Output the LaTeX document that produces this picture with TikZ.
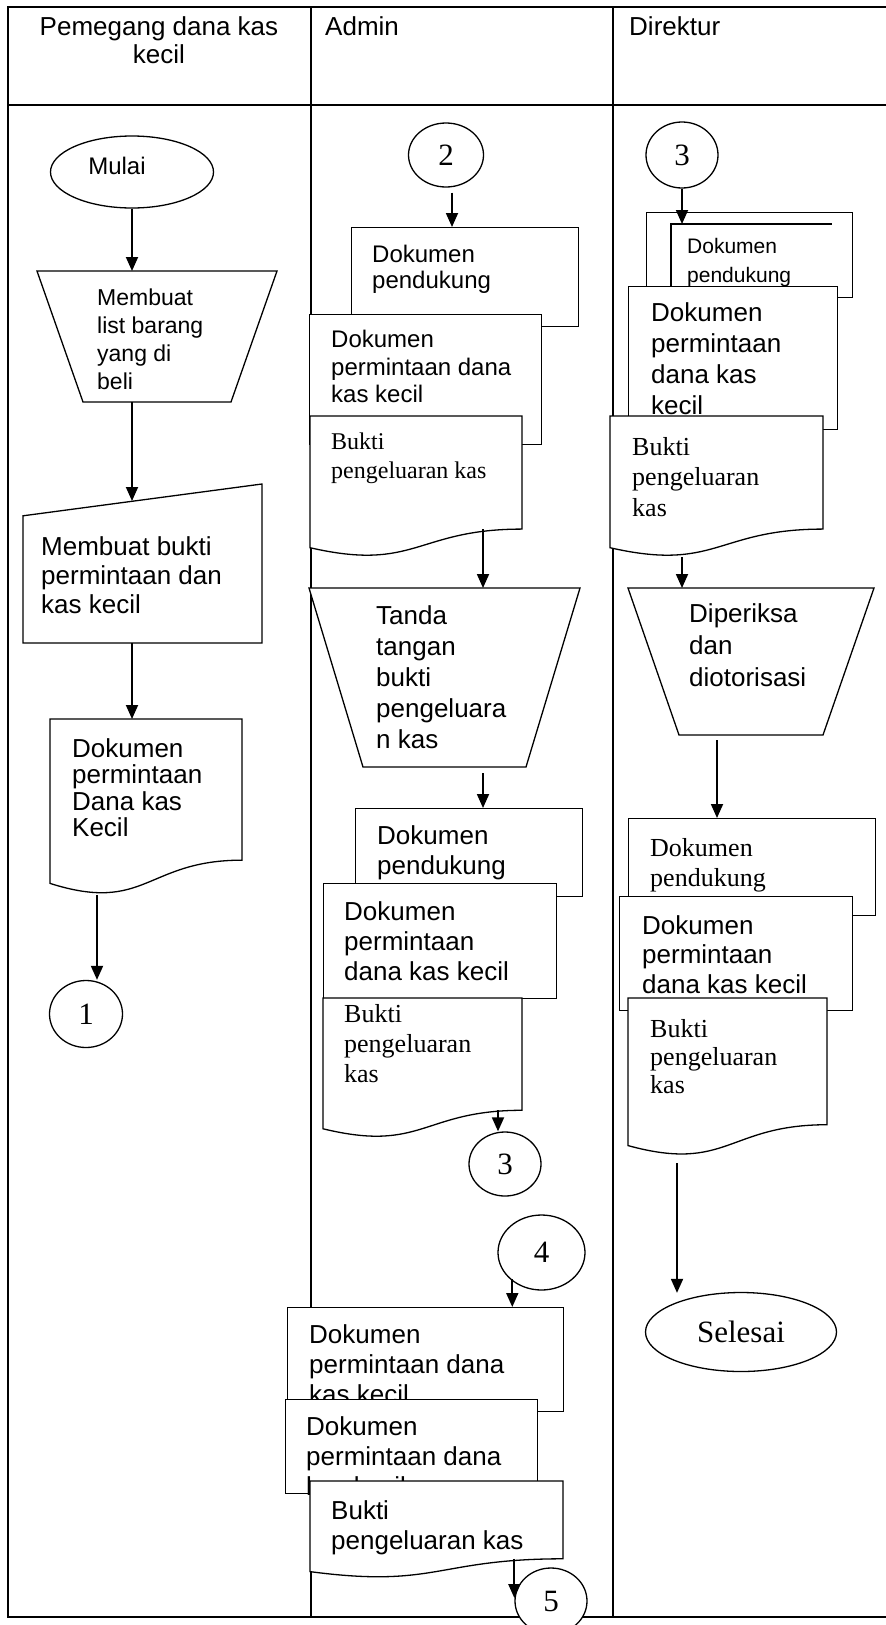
\documentclass[tikz,border=0pt]{standalone}
\usepackage{fontspec}
\setmainfont{Liberation Sans}
\newfontfamily\tms{Liberation Serif}
\usepackage{tikz}
\usetikzlibrary{positioning,shapes.geometric,arrows.meta,calc}

% document symbol: wavy bottom edge round an empty node
\newcommand{\docoutline}[1]{%
  \draw[outline] (#1.north west) -- (#1.north east)
    -- ($(#1.north east)!0.802!(#1.south east)$) coordinate (#1-r)
    .. controls ($(#1.north)!0.802!(#1.south)$) and ($(#1.north)!1.107!(#1.south)$)
    .. ($(#1.north west)!0.934!(#1.south west)$) -- cycle;}
% manual operation: wide top, narrow bottom
\newcommand{\trapoutline}[2]{%
  \draw[outline] (#1.north west) -- (#1.north east)
    -- ([xshift=-#2]#1.south east) -- ([xshift=#2]#1.south west) -- cycle;}

\begin{document}
\begin{tikzpicture}[
  x=1pt, y=-1pt,
  frame/.style={line width=2pt},
  outline/.style={draw, fill=white, line width=1.3pt},
  box/.style={outline, rectangle, inner sep=0pt, anchor=north west},
  area/.style={inner sep=0pt, outer sep=0pt, anchor=north west},
  term/.style={outline, ellipse, inner sep=0pt},
  arr/.style={line width=1.8pt, -{Triangle[length=14pt,width=12pt]}},
  lbl/.style={inner sep=0pt, align=left, font=\fontsize{26pt}{30pt}\selectfont},
  lblsm/.style={lbl, font=\fontsize{21pt}{29pt}\selectfont},
  lblser/.style={lbl, font=\tms\fontsize{26pt}{30pt}\selectfont},
  num/.style={term, font=\tms\fontsize{31pt}{36pt}\selectfont}
]
\useasboundingbox (0,0) rectangle (886,1625);

% ======================================================
% =============== FRAME ================================
% ======================================================
\draw[frame] (890,7) -- (8,7) -- (8,1617) -- (890,1617);
\draw[frame] (8,105) -- (890,105);
\draw[frame] (311,7) -- (311,1617);
\draw[frame] (613,7) -- (613,1617);

\node[lbl, align=center, font=\fontsize{26pt}{28pt}\selectfont] (hPem) at (159,40) {Pemegang dana kas\\kecil};
\node[lbl, anchor=north west] (hAdm) at (325,16) {Admin};
\node[lbl, anchor=north west] (hDir) at (629,16) {Direktur};

% ======================================================
% =============== PEMEGANG DANA KAS KECIL ==============
% ======================================================
\node[term, minimum width=163pt, minimum height=72pt] (mulai) at (132,172) {};
\node[lbl, font=\fontsize{24pt}{28pt}\selectfont, anchor=center] (mulait) at ([shift={(-15pt,6pt)}]mulai.center) {Mulai};

\node[area, minimum width=240pt, minimum height=131pt] (tr1) at (37,271) {};
\trapoutline{tr1}{46pt}
\node[lbl, font=\fontsize{23pt}{28pt}\selectfont, below right=18pt and 60pt of tr1.north west] (tr1t) {Membuat\\list barang\\yang di\\beli};

\node[area, minimum width=239pt, minimum height=159pt] (mi1) at (23,484) {};
\draw[outline] (mi1.north east) -- (mi1.south east) -- (mi1.south west) -- ($(mi1.north west)!0.2!(mi1.south west)$) -- cycle;
\node[lbl, font=\fontsize{26pt}{29pt}\selectfont, below right=52pt and 18pt of mi1.north west] (mi1t) {Membuat bukti\\permintaan dan\\kas kecil};

\node[area, minimum width=192pt, minimum height=176pt] (doc1) at (50,719) {};
\docoutline{doc1}
\node[lbl, font=\fontsize{26pt}{26.5pt}\selectfont, below right=19pt and 22pt of doc1.north west] (doc1t) {Dokumen\\permintaan\\Dana kas\\Kecil};

\node[num, minimum width=73pt, minimum height=67pt] (c1) at (86,1014) {1};

% ======================================================
% =============== ADMIN ================================
% ======================================================
\node[num, minimum width=75pt, minimum height=64pt] (c2) at (446,155) {2};

\node[box, minimum width=227pt, minimum height=99pt] (pdA1) at (351,227) {};
\node[lbl, font=\fontsize{24pt}{26pt}\selectfont, below right=18pt and 21pt of pdA1.north west] (pdA1t) {Dokumen\\pendukung};
\node[box, minimum width=232pt, minimum height=130pt] (pmA1) at (309,314) {};
\node[lbl, font=\fontsize{24pt}{27.5pt}\selectfont, below right=16pt and 22pt of pmA1.north west] (pmA1t) {Dokumen\\permintaan dana\\kas kecil};
\node[area, minimum width=212pt, minimum height=141pt] (bkA1) at (310,416) {};
\docoutline{bkA1}
\node[lblser, font=\tms\fontsize{24pt}{29pt}\selectfont, below right=17pt and 21pt of bkA1.north west] (bkA1t) {Bukti\\pengeluaran kas};

\node[area, minimum width=271pt, minimum height=179pt] (trA) at (309,588) {};
\trapoutline{trA}{54pt}
\node[lbl, font=\fontsize{26pt}{31pt}\selectfont, below right=17pt and 67pt of trA.north west] (trAt) {Tanda\\tangan\\bukti\\pengeluara\\n kas};

\node[box, minimum width=227pt, minimum height=88pt] (pdA2) at (355,808) {};
\node[lbl, below right=17pt and 22pt of pdA2.north west] (pdA2t) {Dokumen\\pendukung};
\node[box, minimum width=233pt, minimum height=115pt] (pmA2) at (323,883) {};
\node[lbl, below right=18pt and 21pt of pmA2.north west] (pmA2t) {Dokumen\\permintaan\\dana kas kecil};
\node[area, minimum width=199pt, minimum height=140pt] (bkA2) at (323,998) {};
\docoutline{bkA2}
\node[lblser, below right=6pt and 21pt of bkA2.north west] (bkA2t) {Bukti\\pengeluaran\\kas};

\node[num, minimum width=72pt, minimum height=64pt] (c3a) at (505,1164) {3};
\node[num, minimum width=87pt, minimum height=75pt] (c4) at (541.5,1252.5) {4};

\node[box, minimum width=276pt, minimum height=104pt] (pmA3) at (287,1307) {};
\node[lbl, below right=17pt and 22pt of pmA3.north west] (pmA3t) {Dokumen\\permintaan dana\\kas kecil};
\node[box, minimum width=252pt, minimum height=94pt] (pmA4) at (285,1399) {};
\node[lbl, below right=17pt and 21pt of pmA4.north west] (pmA4t) {Dokumen\\permintaan dana\\kas kecil};
\node[area, minimum width=253pt, minimum height=97pt] (bkA3) at (310,1481) {};
\docoutline{bkA3}
\node[lbl, below right=19pt and 21pt of bkA3.north west] (bkA3t) {Bukti\\pengeluaran kas};

\node[num, minimum width=72pt, minimum height=66pt] (c5) at (551,1601) {5};

% ======================================================
% =============== DIREKTUR =============================
% ======================================================
\node[num, minimum width=72pt, minimum height=66pt] (c3b) at (682,155) {3};

\node[box, minimum width=206pt, minimum height=85pt] (pdD1) at (646,212) {};
\draw[line width=1.3pt] ([xshift=25pt]pdD1.south west) -- ([shift={(25pt,-12pt)}]pdD1.north west) coordinate (pdD1in) -- ([shift={(186pt,-12pt)}]pdD1.north west);
\node[lblsm, below right=26pt and 41pt of pdD1.north west] (pdD1t) {Dokumen\\pendukung};
\node[box, minimum width=209pt, minimum height=143pt] (pmD1) at (628,286) {};
\node[lbl, font=\fontsize{26pt}{31pt}\selectfont, below right=16pt and 23pt of pmD1.north west] (pmD1t) {Dokumen\\permintaan\\dana kas\\kecil};
\node[area, minimum width=213pt, minimum height=141pt] (bkD1) at (610,416) {};
\docoutline{bkD1}
\node[lblser, font=\tms\fontsize{26pt}{30.5pt}\selectfont, below right=21pt and 22pt of bkD1.north west] (bkD1t) {Bukti\\pengeluaran\\kas};

\node[area, minimum width=246pt, minimum height=147pt] (trD) at (628,588) {};
\trapoutline{trD}{51pt}
\node[lbl, font=\fontsize{26pt}{32pt}\selectfont, below right=15pt and 61pt of trD.north west] (trDt) {Diperiksa\\dan\\diotorisasi};

\node[box, minimum width=247pt, minimum height=97pt] (pdD2) at (628,818) {};
\node[lblser, below right=20pt and 22pt of pdD2.north west] (pdD2t) {Dokumen\\pendukung};
\node[box, minimum width=233pt, minimum height=114pt] (pmD2) at (619,896) {};
\node[lbl, font=\fontsize{26pt}{29.5pt}\selectfont, below right=19pt and 23pt of pmD2.north west] (pmD2t) {Dokumen\\permintaan\\dana kas kecil};
\node[area, minimum width=199pt, minimum height=158pt] (bkD2) at (628,998) {};
\docoutline{bkD2}
\node[lblser, font=\tms\fontsize{26pt}{28pt}\selectfont, below right=21pt and 22pt of bkD2.north west] (bkD2t) {Bukti\\pengeluaran\\kas};

\node[term, font=\tms\fontsize{31pt}{36pt}\selectfont, minimum width=191pt, minimum height=79pt] (selesai) at (741,1332) {Selesai};

% ======================================================
% =============== ARROWS ===============================
% ======================================================
\draw[arr] (mulai.south) -- (mulai.south |- tr1.north);
\draw[arr] (mulai.south |- tr1.south) -- ([yshift=-17pt]mulai.south |- mi1.north);
\draw[arr] (mulai.south |- mi1.south) -- (mulai.south |- doc1.north);
\draw[arr] ([xshift=11pt]c1.north |- doc1.south) -- ([xshift=11pt]c1.north);

\draw[arr] ([xshift=6pt,yshift=-5pt]c2.south) -- ([xshift=6pt]c2.south |- pdA1.north);
\draw[arr] ([xshift=38.5pt]trA.north |- bkA1-r) -- ([xshift=38.5pt]trA.north);
\draw[arr] ([xshift=38.5pt,yshift=-6pt]trA.south) -- ([xshift=38.5pt]trA.south |- pdA2.north);
\draw[arr] ([xshift=-7pt]c3a.north |- bkA2-r) -- ([xshift=-7pt]c3a.north);
\draw[arr] ([xshift=2pt]c4.south west) -- ([xshift=2pt]c4.south west |- pmA3.north);
\draw[arr] (c5.west |- bkA3-r) -- ([yshift=3pt]c5.west);

\draw[arr] (c3b.south) -- (c3b.south |- pdD1in);
\draw[arr] (c3b.south |- bkD1.south) -- (c3b.south |- trD.north);
\draw[arr] ([xshift=-34pt,yshift=-5pt]trD.south) -- ([xshift=-34pt]trD.south |- pdD2.north);
\draw[arr] ([xshift=-64pt,yshift=-7pt]selesai.north |- bkD2.south) -- ([xshift=-64pt,yshift=-1pt]selesai.north);

\end{tikzpicture}
\end{document}
